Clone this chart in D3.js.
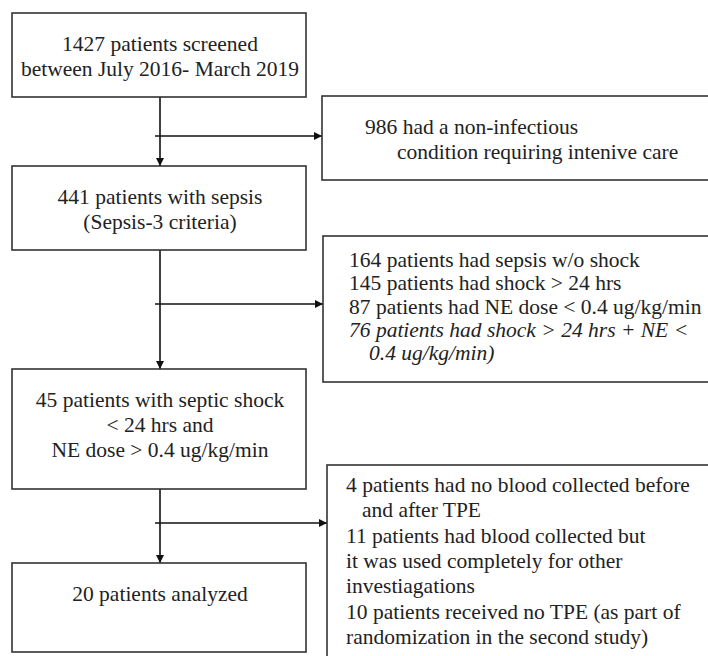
<!DOCTYPE html>
<html>
<head>
<meta charset="utf-8">
<script src="https://cdn.jsdelivr.net/npm/d3@7"></script>
<style>
  body { margin: 0; background: #fff; }
</style>
</head>
<body>
<svg width="708" height="656"></svg>
<script>
// main flow boxes, top to bottom
var mainSteps = [
  ["1427 patients screened", "between July 2016- March 2019"],
  ["441 patients with sepsis", "(Sepsis-3 criteria)"],
  ["45 patients with septic shock", "< 24 hrs and", "NE dose > 0.4 ug/kg/min"],
  ["20 patients analyzed"]
];

// excluded at each step (side boxes)
var exclusions = [
  ["986 had a non-infectious", "condition requiring intenive care"],
  ["164 patients had sepsis w/o shock", "145 patients had shock > 24 hrs",
   "87 patients had NE dose < 0.4 ug/kg/min",
   "76 patients had shock > 24 hrs + NE <", "0.4 ug/kg/min)"],
  ["4 patients had no blood collected before", "and after TPE",
   "11 patients had blood collected but", "it was used completely for other",
   "investiagations", "10 patients received no TPE (as part of",
   "randomization in the second study)"]
];
var italicLines = [[], [3, 4], []];

var svg = d3.select("svg"),
    width = +svg.attr("width"),
    height = +svg.attr("height");

var font = "Liberation Serif, Times New Roman, serif",
    fs = 21.5;

// layout
var mainX = 12, mainW = 294, cx = 160;
var mainTop = [13, 166, 369, 563],
    mainBot = [97, 250, 489, 652];
var sideTop = [96, 236, 465],
    sideBot = [180, 382, 720],
    sideX = [322, 323, 327],
    sideFirst = [133.5, 267, 492],
    sideLH = [25, 23.3, 25.3],
    sideTextX = [[365, 397], [349, 349, 349, 349, 369], [346, 362, 346, 346, 346, 346, 346]];
var branchY = [136, 304, 523];

var defs = svg.append("defs");
defs.append("marker")
    .attr("id", "arr")
    .attr("viewBox", "0 0 10 10")
    .attr("refX", 10).attr("refY", 5)
    .attr("markerWidth", 8).attr("markerHeight", 8)
    .attr("markerUnits", "userSpaceOnUse")
    .attr("orient", "auto")
  .append("path")
    .attr("d", "M0,0L10,5L0,10z")
    .attr("fill", "#111");

var line = d3.line();

// connectors
var g = svg.append("g").attr("stroke", "#111").attr("stroke-width", 1.6).attr("fill", "none");
mainSteps.slice(1).forEach(function(d, i) {
  g.append("path")
    .attr("d", line([[cx, mainBot[i]], [cx, mainTop[i + 1]]]))
    .attr("marker-end", "url(#arr)");
  g.append("path")
    .attr("d", line([[cx - 5, branchY[i]], [sideX[i], branchY[i]]]))
    .attr("marker-end", "url(#arr)");
});

// main boxes
var mb = svg.selectAll("g.main")
  .data(mainSteps)
  .enter().append("g")
    .attr("class", "main");

mb.append("rect")
    .attr("x", mainX)
    .attr("y", function(d, i) { return mainTop[i]; })
    .attr("width", mainW)
    .attr("height", function(d, i) { return mainBot[i] - mainTop[i]; })
    .attr("fill", "#fff")
    .attr("stroke", "#333")
    .attr("stroke-width", 1.6);

mb.each(function(d, i) {
  d3.select(this).selectAll("text")
    .data(d)
    .enter().append("text")
      .attr("x", mainX + mainW / 2 + 1)
      .attr("y", function(t, j) { return mainTop[i] + 37.5 + j * 25; })
      .attr("text-anchor", "middle")
      .attr("font-family", font)
      .attr("font-size", fs)
      .attr("fill", "#222")
      .text(function(t) { return t; });
});

// side boxes
var sb = svg.selectAll("g.side")
  .data(exclusions)
  .enter().append("g")
    .attr("class", "side");

sb.append("rect")
    .attr("x", function(d, i) { return sideX[i]; })
    .attr("y", function(d, i) { return sideTop[i]; })
    .attr("width", function(d, i) { return 720 - sideX[i]; })
    .attr("height", function(d, i) { return sideBot[i] - sideTop[i]; })
    .attr("fill", "#fff")
    .attr("stroke", "#333")
    .attr("stroke-width", 1.6);

sb.each(function(d, i) {
  d3.select(this).selectAll("text")
    .data(d)
    .enter().append("text")
      .attr("x", function(t, j) { return sideTextX[i][j]; })
      .attr("y", function(t, j) { return sideFirst[i] + j * sideLH[i]; })
      .attr("font-family", font)
      .attr("font-size", fs)
      .attr("fill", "#222")
      .attr("font-style", function(t, j) { return italicLines[i].indexOf(j) >= 0 ? "italic" : null; })
      .text(function(t) { return t; });
});
</script>
</body>
</html>
